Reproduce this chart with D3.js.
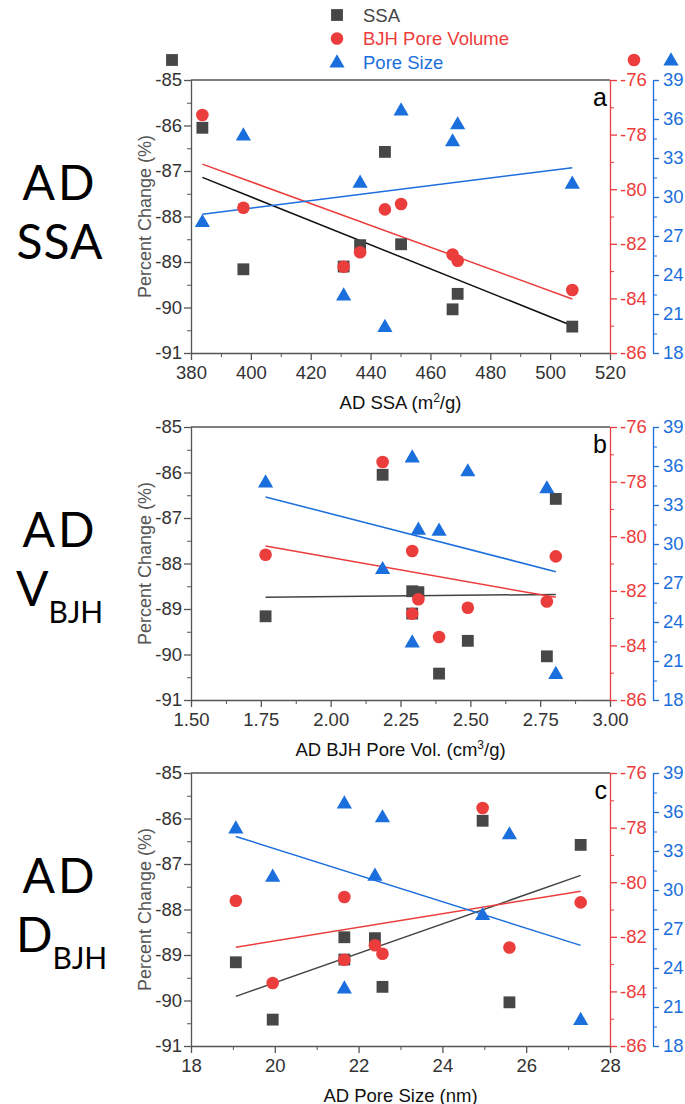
<!DOCTYPE html>
<html>
<head>
<meta charset="utf-8">
<script src="https://cdnjs.cloudflare.com/ajax/libs/d3/7.8.5/d3.min.js"></script>
<style>
  body { margin: 0; background: #fff; }
  svg text { font-family: "Liberation Sans", Arial, sans-serif; }
</style>
</head>
<body>
<div id="chart"></div>
<script>
// as-deposited properties of the nine samples (x values of the three panels)
const ssaAD  = [383.8, 397.5, 431.0, 436.5, 444.8, 450.2, 467.4, 469.1, 507.4];
const vbjhAD = [2.186, 1.767, 2.292, 2.314, 2.806, 2.292, 2.774, 2.491, 2.388];
const poreAD = [24.96, 19.07, 21.66, 22.39, 27.30, 21.66, 25.60, 22.57, 19.95];

// percent change after treatment
const ssaChange  = [-86.05, -89.16, -89.10, -88.63, -86.58, -88.61, -90.04, -89.70, -90.42]; // left axis
const bjhChange  = [-77.28, -80.68, -82.84, -82.31, -80.74, -80.54, -82.39, -82.62, -83.69]; // red axis
const sizeChange = [28.10, 34.77, 22.46, 31.13, 20.03, 36.69, 34.31, 35.62, 31.05];          // blue axis

// linear fit lines, value at min x and at max x
const fitA_ssa = [-87.14, -90.40], fitA_bjh = [-79.08, -84.02], fitA_size = [28.67, 32.25];
const fitB_ssa = [-88.74, -88.68], fitB_bjh = [-80.36, -82.24], fitB_size = [33.62, 27.87];
const fitC_ssa = [-89.91, -87.25], fitC_bjh = [-82.38, -80.33], fitC_size = [34.12, 25.74];

// axis ticks
const leftTicks  = [-85, -86, -87, -88, -89, -90, -91];
const redTicks   = [-76, -78, -80, -82, -84, -86];
const blueTicks  = [18, 21, 24, 27, 30, 33, 36, 39];
const xTicksA = [380, 400, 420, 440, 460, 480, 500, 520];
const xTicksB = [1.50, 1.75, 2.00, 2.25, 2.50, 2.75, 3.00];
const xTicksC = [18, 20, 22, 24, 26, 28];

const seriesNames = ["SSA", "BJH Pore Volume", "Pore Size"];

const cSSA = "#474747", cBJH = "#ec3d3d", cSize = "#1b6fdc";
const left = 191, right = 610, blueX = 653, ph = 273;

const svg = d3.select("#chart").append("svg")
    .attr("width", 685)
    .attr("height", 1104);

const sqr = d3.symbol().type(d3.symbolSquare).size(140);
const circ = d3.symbol().type(d3.symbolCircle).size(125);
const tri = d3.symbol().type(d3.symbolTriangle).size(100);

const panels = [
  {top: 80,  xs: ssaAD,  dom: [380, 520], ticks: xTicksA, step: 10, fmt: d => d,
   title: ["AD SSA (m", "2", "/g)"], letter: "a", fits: [fitA_ssa, fitA_bjh, fitA_size], line: "#111",
   side: ["AD", "SSA", ""]},
  {top: 427, xs: vbjhAD, dom: [1.5, 3.0], ticks: xTicksB, step: 0.125, fmt: d3.format(".2f"),
   title: ["AD BJH Pore Vol. (cm", "3", "/g)"], letter: "b", fits: [fitB_ssa, fitB_bjh, fitB_size], line: "#444",
   side: ["AD", "V", "BJH"]},
  {top: 773, xs: poreAD, dom: [18, 28], ticks: xTicksC, step: 1, fmt: d => d,
   title: ["AD Pore Size (nm)", "", ""], letter: "c", fits: [fitC_ssa, fitC_bjh, fitC_size], line: "#444",
   side: ["AD", "D", "BJH"]}
];

panels.forEach((p, pi) => {
  const x = d3.scaleLinear().domain(p.dom).range([left, right]);
  const y = d3.scaleLinear().domain([-91, -85]).range([p.top + ph, p.top]);
  const yR = d3.scaleLinear().domain([-86, -76]).range([p.top + ph, p.top]);
  const yB = d3.scaleLinear().domain([18, 39]).range([p.top + ph, p.top]);
  const g = svg.append("g");

  // minor ticks
  const xMinor = d3.range(p.dom[0] + p.step, p.dom[1], p.step * 2);
  g.append("g").attr("transform", `translate(0,${p.top + ph})`)
    .call(d3.axisBottom(x).tickValues(xMinor).tickSize(4).tickSizeOuter(0).tickFormat(""))
    .call(a => a.selectAll("line,path").attr("stroke", "#555"));
  g.append("g").attr("transform", `translate(${left},0)`)
    .call(d3.axisLeft(y).tickValues(d3.range(-90.5, -85, 1)).tickSize(4).tickSizeOuter(0).tickFormat(""))
    .call(a => a.selectAll("line,path").attr("stroke", "#555"));
  g.append("g").attr("transform", `translate(${right},0)`)
    .call(d3.axisRight(yR).tickValues(d3.range(-85, -76, 2)).tickSize(4).tickSizeOuter(0).tickFormat(""))
    .call(a => a.selectAll("line,path").attr("stroke", cBJH));
  g.append("g").attr("transform", `translate(${blueX},0)`)
    .call(d3.axisRight(yB).tickValues(d3.range(19.5, 39, 3)).tickSize(4).tickSizeOuter(0).tickFormat(""))
    .call(a => a.selectAll("line,path").attr("stroke", cSize));

  // major axes
  const xa = g.append("g").attr("transform", `translate(0,${p.top + ph})`)
    .call(d3.axisBottom(x).tickValues(p.ticks).tickSize(7).tickSizeOuter(0).tickPadding(6).tickFormat(p.fmt));
  const ya = g.append("g").attr("transform", `translate(${left},0)`)
    .call(d3.axisLeft(y).tickValues(leftTicks).tickSize(7).tickSizeOuter(0).tickPadding(2).tickFormat(d => d));
  [xa, ya].forEach(a => {
    a.selectAll("line,path").attr("stroke", "#555").attr("stroke-width", 1.3);
    a.selectAll("text").attr("font-size", 18.5).attr("fill", "#333").style("font-family", "Liberation Sans, Arial, sans-serif");
  });
  const ra = g.append("g").attr("transform", `translate(${right},0)`)
    .call(d3.axisRight(yR).tickValues(redTicks).tickSize(7).tickSizeOuter(0).tickPadding(3).tickFormat(d => d));
  ra.selectAll("line,path").attr("stroke", cBJH).attr("stroke-width", 1.3);
  ra.selectAll("text").attr("font-size", 18.5).attr("fill", cBJH).style("font-family", "Liberation Sans, Arial, sans-serif");
  const ba = g.append("g").attr("transform", `translate(${blueX},0)`)
    .call(d3.axisRight(yB).tickValues(blueTicks).tickSize(6).tickSizeOuter(0).tickPadding(4).tickFormat(d => d));
  ba.selectAll("line,path").attr("stroke", cSize).attr("stroke-width", 1.3);
  ba.selectAll("text").attr("font-size", 18.5).attr("fill", cSize).style("font-family", "Liberation Sans, Arial, sans-serif");

  // top frame line
  g.append("line").attr("x1", left).attr("x2", right).attr("y1", p.top).attr("y2", p.top)
    .attr("stroke", "#555").attr("stroke-width", 1.3);

  // axis titles
  g.append("text")
    .attr("transform", `translate(151,${p.top + ph / 2}) rotate(-90)`)
    .attr("text-anchor", "middle").attr("font-size", 18).attr("fill", "#555")
    .text("Percent Change (%)");
  const t = g.append("text").attr("x", (left + right) / 2).attr("y", p.top + ph + 55.5)
    .attr("text-anchor", "middle").attr("font-size", 18.5).attr("fill", "#111");
  t.append("tspan").text(p.title[0]);
  if (p.title[1]) {
    t.append("tspan").attr("dy", -7).attr("font-size", 12).text(p.title[1]);
    t.append("tspan").attr("dy", 7).text(p.title[2]);
  }
  g.append("text").attr("x", 607).attr("y", p.top + 26).attr("text-anchor", "end")
    .attr("font-size", 25).attr("fill", "#000").text(p.letter);

  // fit lines
  const xr = d3.extent(p.xs);
  [[y, p.fits[0], p.line], [yR, p.fits[1], cBJH], [yB, p.fits[2], cSize]].forEach(([sc, f, col]) => {
    g.append("line")
      .attr("x1", x(xr[0])).attr("x2", x(xr[1]))
      .attr("y1", sc(f[0])).attr("y2", sc(f[1]))
      .attr("stroke", col).attr("stroke-width", 1.5);
  });

  // markers
  g.selectAll(".sq").data(p.xs).join("path").attr("class", "sq")
    .attr("d", sqr).attr("fill", cSSA)
    .attr("transform", (d, i) => `translate(${x(d)},${y(ssaChange[i])})`);
  g.selectAll(".ci").data(p.xs).join("path").attr("class", "ci")
    .attr("d", circ).attr("fill", cBJH)
    .attr("transform", (d, i) => `translate(${x(d)},${yR(bjhChange[i])})`);
  g.selectAll(".tr").data(p.xs).join("path").attr("class", "tr")
    .attr("d", tri).attr("fill", cSize)
    .attr("transform", (d, i) => `translate(${x(d)},${yB(sizeChange[i]) + 1})`);

  // row label on the left
  const cx = 60;
  const s = svg.append("g").attr("fill", "#000");
  s.append("text").attr("x", cx).attr("y", p.top + 120).attr("text-anchor", "middle")
    .attr("font-size", 48).attr("letter-spacing", 3).style("font-family", "Lato, sans-serif").text(p.side[0]);
  const l2 = s.append("text").attr("x", p.side[2] ? 16 : cx).attr("y", p.top + 179)
    .attr("text-anchor", p.side[2] ? "start" : "middle")
    .attr("font-size", 48).attr("letter-spacing", p.side[2] ? 0 : 1).style("font-family", "Lato, sans-serif");
  l2.append("tspan").text(p.side[1]);
  if (p.side[2]) l2.append("tspan").attr("dy", 17).attr("font-size", 30).text(p.side[2]);
});

// legend
const legend = svg.append("g");
const legCols = [cSSA, cBJH, cSize];
const legSyms = [sqr, circ, tri];
seriesNames.forEach((n, i) => {
  const ly = 15 + i * 23.5;
  legend.append("path").attr("d", legSyms[i]).attr("fill", legCols[i])
    .attr("transform", `translate(337,${ly + (i === 2 ? 1 : 0)})`);
  legend.append("text").attr("x", 363).attr("y", ly + 6.5).attr("font-size", 18.5)
    .attr("fill", i === 0 ? "#444" : legCols[i]).text(n);
});

// axis symbols above panel a
svg.append("path").attr("d", sqr).attr("fill", cSSA).attr("transform", "translate(172,60)");
svg.append("path").attr("d", circ).attr("fill", cBJH).attr("transform", "translate(634,60)");
svg.append("path").attr("d", tri).attr("fill", cSize).attr("transform", "translate(671,61)");
</script>
</body>
</html>
